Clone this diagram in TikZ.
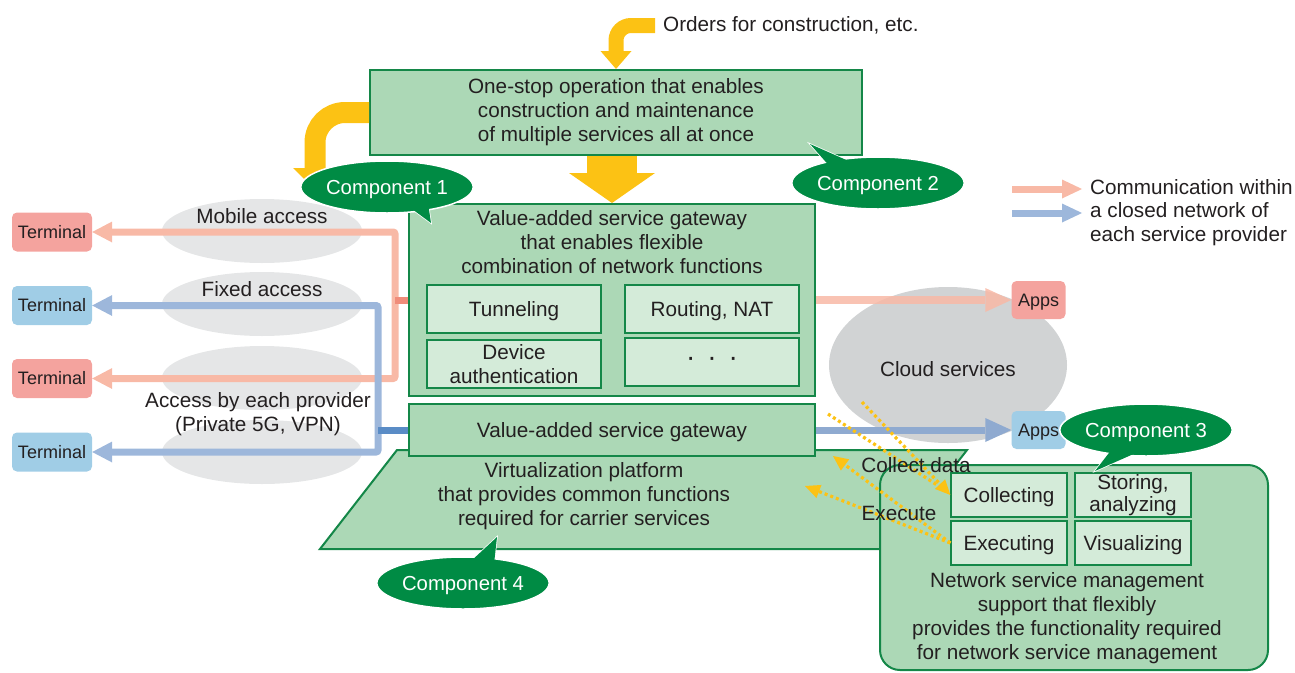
\documentclass[tikz,border=0pt]{standalone}
\usepackage{fontspec}
\setmainfont{Liberation Sans}
\usetikzlibrary{arrows.meta,shapes.geometric,calc}
\definecolor{gfill}{RGB}{172,216,182}
\definecolor{gdark}{RGB}{20,135,72}
\definecolor{ifill}{RGB}{212,235,217}
\definecolor{cgreen}{RGB}{0,139,68}
\definecolor{yel}{RGB}{252,194,20}
\definecolor{lgray}{RGB}{229,230,231}
\definecolor{cgray}{RGB}{209,211,212}
\definecolor{tred}{RGB}{244,163,158}
\definecolor{tblue}{RGB}{160,205,230}
\definecolor{lred}{RGB}{248,185,166}
\definecolor{lblue}{RGB}{157,183,219}
\definecolor{dred}{RGB}{240,140,122}
\definecolor{dblue}{RGB}{90,140,198}
\definecolor{ablue}{RGB}{143,170,208}
\definecolor{txt}{RGB}{35,31,32}
\pgfdeclarelayer{back}
\pgfsetlayers{back,main}
\tikzset{
  mtxt/.style={font=\fontsize{20.7}{24}\selectfont, text=txt, align=center, inner sep=0pt},
  stxt/.style={font=\fontsize{18}{21}\selectfont, text=txt, inner sep=0pt},
  nodepth/.style={text depth=0pt},
  gbox/.style={draw=gdark, fill=gfill, line width=2pt, inner sep=0pt},
  ibox/.style={draw=gdark, fill=ifill, line width=1.3pt, mtxt},
  term/.style={rounded corners=5pt, minimum width=80pt, minimum height=39pt, stxt},
  appbox/.style={rounded corners=5pt, minimum width=54pt, minimum height=38pt, stxt, nodepth},
  acc/.style={ellipse, fill=lgray, minimum width=200pt, minimum height=64pt, inner sep=0pt},
  callout/.style={ellipse, fill=cgreen, draw=white, line width=1.5pt, minimum width=142pt, minimum height=52pt, inner sep=0pt, text=white, font=\fontsize{20.3}{24}\selectfont, nodepth},
  tail/.style={fill=cgreen, draw=white, line width=1.5pt},
  accline/.style={line width=7pt, rounded corners=2pt, -{Triangle[length=20pt,width=21pt,line width=0pt]}},
  dotl/.style={draw=yel, line width=3.2pt, dash pattern=on 3pt off 3pt},
  dota/.style={dotl, -{Triangle[length=15pt,width=14pt,line width=0pt]}},
}
\begin{document}
\begin{tikzpicture}[x=1pt,y=-1pt]
\useasboundingbox (0,0) rectangle (1295,672);

% ---------- terminals, apps ----------
\node[term, fill=tred]  (t1) at (52,232)   {Terminal};
\node[term, fill=tblue] (t2) at (52,305.5) {Terminal};
\node[term, fill=tred]  (t3) at (52,378.5) {Terminal};
\node[term, fill=tblue] (t4) at (52,452)   {Terminal};
\node[appbox, fill=tred]  (appsR) at (1038.5,300) {Apps};
\node[appbox, fill=tblue] (appsB) at (1038.5,430) {Apps};

% ---------- main boxes ----------
\node[gbox, minimum width=492pt, minimum height=85pt, mtxt] (top) at (616,112.5)
  {One-stop operation that enables\\construction and maintenance\\of multiple services all at once};
\node[gbox, minimum width=406pt, minimum height=192pt] (gw) at (612,300) {};
\node[mtxt] (gwt) at (612,242) {Value-added service gateway\\that enables flexible\\combination of network functions};
\node[ibox, nodepth, minimum width=174pt, minimum height=48pt] (tun) at (514,309) {Tunneling};
\node[ibox, nodepth, minimum width=174pt, minimum height=48pt] (rout) at (712,309) {Routing, NAT};
\node[ibox, minimum width=174pt, minimum height=48pt] (dev) at (514,364) {Device\\authentication};
\node[ibox, minimum width=174pt, minimum height=48pt, font=\fontsize{28}{24}\selectfont] (dots) at (712,362) {·\hspace{12pt}·\hspace{12pt}·};

\filldraw[draw=gdark, fill=gfill, line width=2pt] (397,450) -- (967,450) -- (890,549) -- (320,549) -- cycle;
\node[mtxt] (virt) at (584,496) {Virtualization platform\\that provides common functions\\required for carrier services};
\node[gbox, minimum width=406pt, minimum height=52pt, mtxt, nodepth] (gw2) at (612,430) {Value-added service gateway};

\node[gbox, rounded corners=20pt, minimum width=388pt, minimum height=205pt] (nsm) at (1074,567.5) {};
\node[ibox, nodepth, minimum width=116pt, minimum height=44pt] (coll) at (1009,495) {Collecting};
\node[ibox, minimum width=116pt, minimum height=44pt, font=\fontsize{20.7}{22}\selectfont] (stor) at (1133,495) {Storing,\\analyzing};
\node[ibox, nodepth, minimum width=116pt, minimum height=44pt] (exe) at (1009,543) {Executing};
\node[ibox, nodepth, minimum width=116pt, minimum height=44pt] (vis) at (1133,543) {Visualizing};
\node[mtxt] (nsmt) at (1067,618) {Network service management\\support that flexibly\\provides the functionality required\\for network service management};

% ---------- background: ellipses and lines ----------
\begin{pgfonlayer}{back}
\node[acc] (e1) at (262,231) {};
\node[acc] (e2) at (262,304) {};
\node[acc] (e3) at (262,378) {};
\node[acc] (e4) at (262,452) {};
\node[ellipse, fill=cgray, minimum width=238pt, minimum height=156pt, inner sep=0pt] (cloud) at (948,365) {};
\coordinate (rj) at (395,300);
\coordinate (bj) at (378,430);
\draw[accline, draw=lred] (rj) -- (rj |- t1.east) -- (t1.east);
\draw[accline, draw=lred] (rj) -- (rj |- t3.east) -- (t3.east);
\draw[accline, draw=lblue] (bj) -- (bj |- t2.east) -- (t2.east);
\draw[accline, draw=lblue] (bj) -- (bj |- t4.east) -- (t4.east);
\draw[dred, line width=7pt] (rj) -- (rj -| gw.west);
\draw[dblue, line width=7pt] (bj) -- (bj -| gw2.west);
\draw[lred, opacity=.85, line width=8pt, -{Triangle[length=26pt,width=24pt,line width=0pt]}] (gw.east) -- (appsR.west);
\draw[ablue, line width=7pt, -{Triangle[length=26pt,width=24pt,line width=0pt]}] (gw2.east) -- (appsB.west);
\end{pgfonlayer}

\node[mtxt] (cloudt) at (948,369) {Cloud services};
\node[mtxt] (mob) at (262,216) {Mobile access};
\node[mtxt] (fix) at (262,289) {Fixed access};
\node[mtxt] (prov) at (258,414) {Access by each provider\\(Private 5G, VPN)};

% ---------- yellow arrows ----------
\node[mtxt, anchor=west, nodepth] (ord) at (663,24) {Orders for construction, etc.};
\coordinate (ys) at (655,25.5);
\draw[yel, line width=15pt, rounded corners=15pt, -{Triangle[length=18pt,width=31pt,line width=0pt]}] (ys) -| (top.north);
\coordinate (yl) at (315,190);
\draw[yel, line width=21pt, rounded corners=30pt, -{Triangle[length=22pt,width=44pt,line width=0pt]}] (top.west) -| (yl);
\draw[yel, line width=50pt, -{Triangle[length=30pt,width=86pt,line width=0pt]}] (gw.north |- top.south) -- (gw.north);

% ---------- legend ----------
\coordinate (lr1) at (1012,189);
\coordinate (lr2) at (1082,189);
\coordinate (lb1) at (1012,213);
\coordinate (lb2) at (1082,213);
\draw[lred, line width=7pt, -{Triangle[length=20pt,width=19pt,line width=0pt]}] (lr1) -- (lr2);
\draw[lblue, line width=7pt, -{Triangle[length=20pt,width=19pt,line width=0pt]}] (lb1) -- (lb2);
\node[mtxt, anchor=west, align=left, font=\fontsize{20.7}{23.5}\selectfont] (leg) at (1090,212.5)
  {Communication within\\a closed network of\\each service provider};

% ---------- callouts ----------
\filldraw[tail] (408,206) -- (431,223) -- (428,203) -- cycle;
\node[callout] (c1) at (387,187) {Component 1};
\fill[cgreen] (408,206) -- (431,223) -- (428,203) -- cycle;

\filldraw[tail] (832,169) -- (810,144) -- (853,163) -- cycle;
\node[callout] (c2) at (878,183) {Component 2};
\fill[cgreen] (832,169) -- (810,144) -- (853,163) -- cycle;

\filldraw[tail] (1112,449) -- (1095,471) -- (1138,452) -- cycle;
\node[callout, minimum width=146pt] (c3) at (1146,430) {Component 3};
\fill[cgreen] (1112,449) -- (1095,471) -- (1138,452) -- cycle;

\filldraw[tail] (470,562) -- (497,537) -- (494,564) -- cycle;
\node[callout] (c4) at (463,583) {Component 4};
\fill[cgreen] (470,562) -- (497,537) -- (494,564) -- cycle;

% ---------- dotted arrows ----------
\coordinate (ca1) at (862,402);
\coordinate (ca2) at (828,414);
\coordinate (cb) at (937,485);
\coordinate (ea1) at (833,456);
\coordinate (ea2) at (805,486);
\draw[dota] (ca1) -- (coll.west);
\draw[dotl] (ca2) -- (cb);
\draw[dota] (exe.west) -- (ea1);
\draw[dota] (exe.west) -- (ea2);

\node[mtxt] (cdl) at (916,465) {Collect data};
\node[mtxt] (exl) at (899,513) {Execute};
\end{tikzpicture}
\end{document}
